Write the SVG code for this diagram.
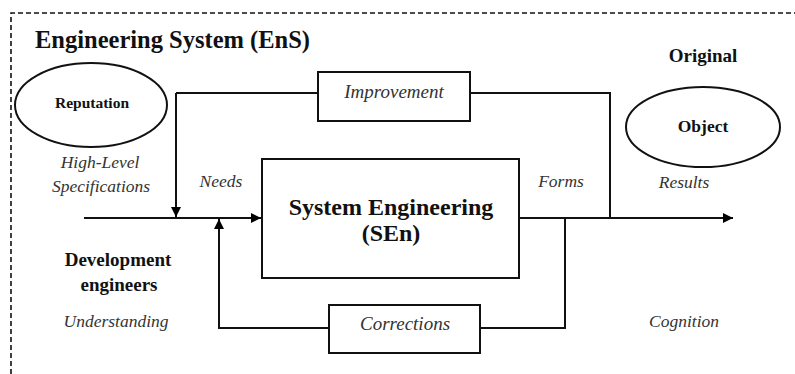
<svg xmlns="http://www.w3.org/2000/svg" width="795" height="374" viewBox="0 0 795 374">
<style>
text{font-family:'Liberation Serif','Times New Roman','DejaVu Serif',serif;fill:#111;text-anchor:middle}
.b{font-weight:bold}
.i{font-style:italic;fill:#333}
.box{fill:#fff;stroke:#111;stroke-width:2}
.ln{fill:none;stroke:#111;stroke-width:2}
.arr{fill:none;stroke:#111;stroke-width:2;marker-end:url(#ah)}
</style>
<defs>
<marker id="ah" viewBox="0 0 10 10" refX="10" refY="5" markerWidth="6" markerHeight="5" markerUnits="strokeWidth" orient="auto">
<path d="M0,0 L10,5 L0,10 Z" fill="#000"/>
</marker>
</defs>
<rect width="795" height="374" fill="#fff"/>
<g id="border">
<path d="M11,374 L11,13 L795,13" fill="none" stroke="#111" stroke-width="1.6" stroke-dasharray="5,3"/>
</g>
<g id="title"><text class="b" x="35" y="48" font-size="24.5" style="text-anchor:start">Engineering System (EnS)</text></g>
<g id="connectors">
<path class="arr" d="M84,218 L261,218"/>
<path class="arr" d="M176,93 L318,93 M176,93 L176,217"/>
<path class="ln" d="M470,93 L610,93 L610,218"/>
<path class="arr" d="M329,328 L219,328 L219,219"/>
<path class="ln" d="M480,328 L565,328 L565,218"/>
<path class="arr" d="M519,218 L733,218"/>
</g>
<g id="reputation">
<ellipse class="box" cx="91" cy="105" rx="76" ry="42"/>
<text class="b" x="92" y="108" font-size="15.5">Reputation</text>
</g>
<g id="improvement">
<rect class="box" x="318" y="72" width="152" height="49"/>
<text class="i" x="394" y="98" font-size="19">Improvement</text>
</g>
<g id="sen">
<rect class="box" x="262" y="159" width="257" height="119"/>
<text class="b" x="391" y="215" font-size="24">System Engineering</text>
<text class="b" x="391" y="241" font-size="24">(SEn)</text>
</g>
<g id="corrections">
<rect class="box" x="329" y="305" width="151" height="48"/>
<text class="i" x="405" y="330" font-size="19">Corrections</text>
</g>
<g id="object">
<text class="b" x="703" y="62" font-size="19">Original</text>
<ellipse class="box" cx="703" cy="127" rx="77" ry="40"/>
<text class="b" x="703" y="132" font-size="17.5">Object</text>
</g>
<g id="labels">
<text class="i" x="100" y="168" font-size="17.5">High-Level</text>
<text class="i" x="101" y="192" font-size="17.5">Specifications</text>
<text class="i" x="221" y="187" font-size="17.5">Needs</text>
<text class="i" x="561" y="187" font-size="17.5">Forms</text>
<text class="i" x="684" y="188" font-size="17.5">Results</text>
<text class="b" x="118" y="266" font-size="19">Development</text>
<text class="b" x="119" y="291" font-size="19">engineers</text>
<text class="i" x="116" y="327" font-size="17.5">Understanding</text>
<text class="i" x="684" y="327" font-size="17.5">Cognition</text>
</g>
</svg>
